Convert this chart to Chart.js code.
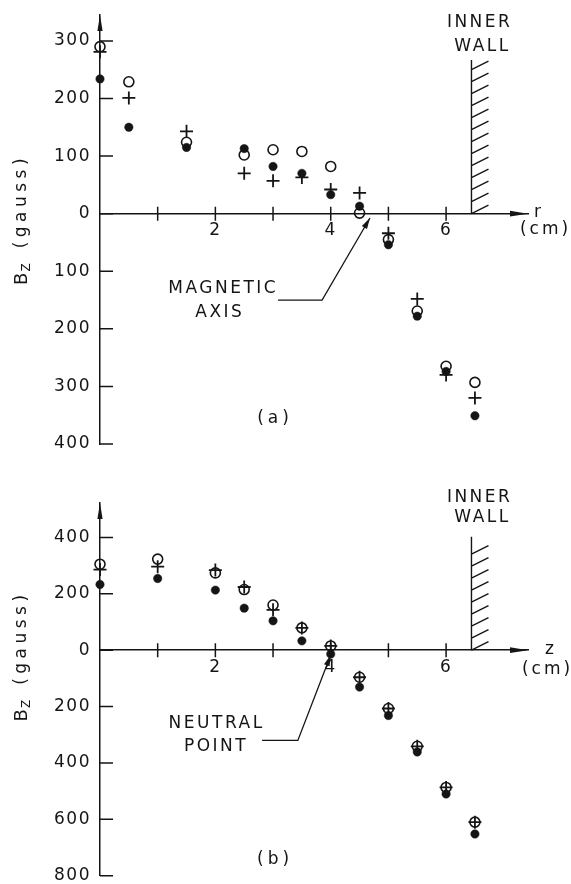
<!DOCTYPE html>
<html>
<head>
<meta charset="utf-8">
<script src="https://cdn.jsdelivr.net/npm/chart.js@4.4.1/dist/chart.umd.min.js"></script>
<style>
html, body { margin: 0; padding: 0; background: #fff; }
#wrap { position: relative; width: 571px; height: 884px; overflow: hidden; }
canvas { position: absolute; left: 0; }
#cA { top: 0; }
#cB { top: 470px; }
</style>
</head>
<body>
<div id="wrap">
  <canvas id="cA" width="571" height="470"></canvas>
  <canvas id="cB" width="571" height="414"></canvas>
</div>
<script>
// panel (a): Bz against r
const rA = [0, 0.5, 1.5, 2.5, 3, 3.5, 4, 4.5, 5, 5.5, 6, 6.5];
const openA = [290, 229, 124, 102, 111, 108, 82, 1, -45, -169, -265, -293];
const plusA = [281, 201, 143, 70, 57, 63, 42, 36, -34, -148, -280, -320];
const dotA = [234, 150, 115, 113, 82, 70, 33, 13, -54, -178, -274, -351];
const yTicksA = [-400, -300, -200, -100, 0, 100, 200, 300];

// panel (b): Bz against z
const zB = [0, 1, 2, 2.5, 3, 3.5, 4, 4.5, 5, 5.5, 6, 6.5];
const openB = [305, 323, 274, 215, 160, 79, 15, -96, -207, -341, -487, -610];
const plusB = [286, 296, 284, 224, 143, 79, 15, -96, -207, -341, -487, -610];
const dotB = [233, 254, 213, 149, 104, 33, -14, -131, -232, -361, -510, -652];
const yTicksB = [-800, -600, -400, -200, 0, 200, 400];

const xTicks = [1, 2, 3, 4, 5, 6];
const xLabels = [2, 4, 6];

const INK = '#151515';
const FONT = '"DejaVu Sans", sans-serif';

function pts(xs, ys) {
    return xs.map((x, i) => ({x: x, y: ys[i]}));
}

function arrowHead(ctx, x, y, ang, len, half) {
    ctx.save();
    ctx.translate(x, y);
    ctx.rotate(ang);
    ctx.beginPath();
    ctx.moveTo(0, 0);
    ctx.lineTo(-len, -half);
    ctx.lineTo(-len, half);
    ctx.closePath();
    ctx.fill();
    ctx.restore();
}

function label(ctx, s, x, y, size, spacing, align) {
    ctx.font = size + 'px ' + FONT;
    ctx.letterSpacing = spacing + 'px';
    ctx.textAlign = align || 'center';
    ctx.textBaseline = 'middle';
    ctx.fillText(s, x + (align === 'left' ? 0 : spacing / 2), y);
}

// draws chars one by one, returns the advance
function spaced(ctx, s, x, y, spacing, draw) {
    let w = 0;
    for (const ch of s) {
        if (draw) ctx.fillText(ch, x + w, y);
        w += ctx.measureText(ch).width + spacing;
    }
    return w - spacing;
}

// axes arrows, tick marks, wall, notes
const sketch = {
    id: 'sketch',
    beforeDraw(chart) {
        chart.ctx.letterSpacing = '1.5px';
    },
    afterDraw(chart, args, o) {
        const ctx = chart.ctx;
        const xs = chart.scales.x, ys = chart.scales.y;
        const ca = chart.chartArea;
        const y0 = ys.getPixelForValue(0);
        ctx.save();
        ctx.strokeStyle = INK;
        ctx.fillStyle = INK;
        ctx.lineWidth = 1.5;

        // arrowheads
        arrowHead(ctx, ca.left, ca.top, -Math.PI / 2, 16, 2.6);
        arrowHead(ctx, ca.right, y0, 0, 18, 2.8);

        // ticks
        ctx.beginPath();
        o.yTicks.forEach(v => {
            const py = ys.getPixelForValue(v);
            ctx.moveTo(ca.left, py);
            ctx.lineTo(ca.left + 13, py);
        });
        xTicks.forEach(v => {
            const px = xs.getPixelForValue(v);
            ctx.moveTo(px, y0 - 7);
            ctx.lineTo(px, y0 + 7);
        });
        ctx.stroke();

        // inner wall with hatching
        const wx = xs.getPixelForValue(o.wall);
        const wt = ys.getPixelForValue(o.wallTop);
        ctx.beginPath();
        ctx.moveTo(wx, y0);
        ctx.lineTo(wx, wt);
        for (let y = y0; y - 8 >= wt - 2; y -= 12) {
            ctx.moveTo(wx, y);
            ctx.lineTo(wx + 17, y - 8.5);
        }
        ctx.lineWidth = 1.4;
        ctx.stroke();

        label(ctx, 'INNER', xs.getPixelForValue(o.inner[0]), ys.getPixelForValue(o.inner[1]), 17, 2.5);
        label(ctx, 'WALL', xs.getPixelForValue(o.wallText[0]), ys.getPixelForValue(o.wallText[1]), 17, 2.5);

        // axis name and unit
        label(ctx, o.axisName, ca.right + o.nameDx, y0 - 1, 17, 0, 'left');
        label(ctx, '(cm)', ca.right + o.unitDx, y0 + o.unitDy, 17, 3);

        // panel letter
        label(ctx, o.panel, xs.getPixelForValue(o.panelAt[0]), ys.getPixelForValue(o.panelAt[1]), 17, 4);

        // note with leader arrow
        o.note.forEach((s, i) => {
            label(ctx, s, xs.getPixelForValue(o.noteAt[i][0]), ys.getPixelForValue(o.noteAt[i][1]), 17, 2.5);
        });
        const lp = o.leader.map(p => [xs.getPixelForValue(p[0]), ys.getPixelForValue(p[1])]);
        ctx.lineWidth = 1.3;
        ctx.beginPath();
        ctx.moveTo(lp[0][0], lp[0][1]);
        lp.slice(1).forEach(p => ctx.lineTo(p[0], p[1]));
        ctx.stroke();
        const a = lp[lp.length - 2], b = lp[lp.length - 1];
        arrowHead(ctx, b[0], b[1], Math.atan2(b[1] - a[1], b[0] - a[0]), 11, 3);

        // y title: B_Z (gauss), read bottom to top
        ctx.letterSpacing = '0px';
        ctx.translate(22, y0 + 8);
        ctx.rotate(-Math.PI / 2);
        ctx.textBaseline = 'middle';
        ctx.textAlign = 'left';
        ctx.font = '18px ' + FONT;
        const wB = ctx.measureText('B').width;
        ctx.font = '12px ' + FONT;
        const wZ = ctx.measureText('Z').width;
        ctx.font = '17px ' + FONT;
        const wG = spaced(ctx, '(gauss)', 0, 0, 4.5, false);
        const gap = 15;
        const start = -(wB + 1 + wZ + gap + wG) / 2;
        ctx.font = '18px ' + FONT;
        ctx.fillText('B', start, 0);
        ctx.font = '12px ' + FONT;
        ctx.fillText('Z', start + wB + 1, 5);
        ctx.font = '17px ' + FONT;
        spaced(ctx, '(gauss)', start + wB + 1 + wZ + gap, 0, 4.5, true);
        ctx.restore();
    }
};

function makePanel(id, xs, open, plus, dots, yMin, yMax, yTicks, pad, extra) {
    const fitY = (s) => { s.width = 100; s.paddingTop = 0; s.paddingBottom = 0; };
    const fitX = (s) => { s.paddingLeft = 0; s.paddingRight = 0; };
    return new Chart(document.getElementById(id), {
        type: 'scatter',
        data: {
            datasets: [
                { label: 'plus', data: pts(xs, plus), order: 0, clip: false,
                  pointStyle: 'cross', pointRadius: 6.5, borderColor: INK, borderWidth: 1.8 },
                { label: 'open', data: pts(xs, open), order: 1, clip: false,
                  pointStyle: 'circle', pointRadius: 5, borderColor: INK, borderWidth: 1.6,
                  backgroundColor: 'rgba(0,0,0,0)' },
                { label: 'dot', data: pts(xs, dots), order: 2, clip: false,
                  pointStyle: 'circle', pointRadius: 4.2, borderColor: INK, borderWidth: 0.5,
                  backgroundColor: INK }
            ]
        },
        options: {
            responsive: false,
            animation: false,
            devicePixelRatio: 1,
            layout: { padding: pad },
            plugins: { legend: { display: false }, tooltip: { enabled: false }, sketch: extra },
            scales: {
                x: {
                    type: 'linear', min: 0, max: 7.42, position: { y: 0 },
                    grid: { display: false, drawTicks: false },
                    border: { display: true, color: INK, width: 1.5 },
                    afterBuildTicks: (s) => { s.ticks = xTicks.map(v => ({value: v})); },
                    afterFit: fitX,
                    ticks: {
                        autoSkip: false, maxRotation: 0, padding: 7, color: INK,
                        font: { family: FONT, size: 17 },
                        callback: (v) => xLabels.includes(v) ? String(v) : ''
                    }
                },
                y: {
                    type: 'linear', min: yMin, max: yMax, position: 'left',
                    grid: { display: false, drawTicks: false },
                    border: { display: true, color: INK, width: 1.5 },
                    afterBuildTicks: (s) => { s.ticks = yTicks.map(v => ({value: v})); },
                    afterFit: fitY,
                    ticks: {
                        autoSkip: false, padding: 9, color: INK,
                        font: { family: FONT, size: 17 },
                        callback: (v) => String(Math.abs(v))
                    }
                }
            }
        },
        plugins: [sketch]
    });
}

makePanel('cA', rA, openA, plusA, dotA, -400, 345, yTicksA,
    { top: 15, bottom: 26, left: 0, right: 43 },
    {
        yTicks: yTicksA, wall: 6.44, wallTop: 267,
        inner: [6.56, 331], wallText: [6.61, 289.5],
        axisName: 'r', nameDx: 6, unitDx: 16, unitDy: 16,
        panel: '(a)', panelAt: [3.0, -355],
        note: ['MAGNETIC', 'AXIS'], noteAt: [[2.115, -130], [2.055, -171]],
        leader: [[3.086, -150], [3.85, -150], [4.68, -7.5]]
    });

makePanel('cB', zB, openB, plusB, dotB, -800, 522, yTicksB,
    { top: 33, bottom: 6, left: 0, right: 43 },
    {
        yTicks: yTicksB, wall: 6.44, wallTop: 402,
        inner: [6.56, 540], wallText: [6.61, 469],
        axisName: 'z', nameDx: 17, unitDx: 18, unitDy: 19,
        panel: '(b)', panelAt: [3.0, -743],
        note: ['NEUTRAL', 'POINT'], noteAt: [[2.0, -260], [1.99, -342]],
        leader: [[2.81, -320], [3.43, -320], [4.0, -17]]
    });
</script>
</body>
</html>
